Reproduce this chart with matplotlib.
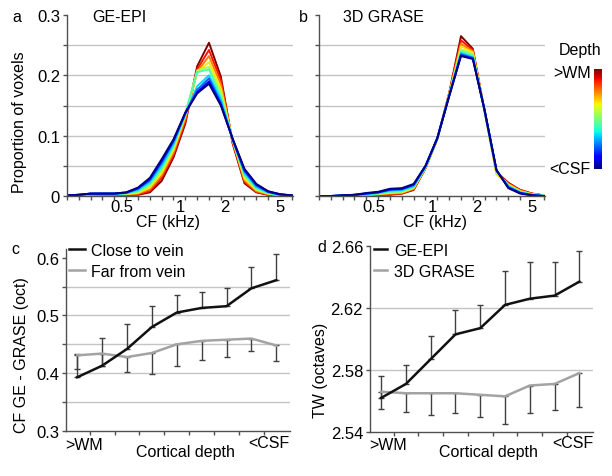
import matplotlib
matplotlib.use("Agg")
import matplotlib.pyplot as plt
import numpy as np

plt.rcParams['font.family'] = ['Liberation Sans', 'DejaVu Sans']
plt.rcParams['font.size'] = 11.5

# ---- data -------------------------------------------------------------
# CF histogram bins (index positions), rows go from <CSF (blue) to >WM (red)
cf_ticks = [4.6, 9.6, 13.3, 18.0]
cf_labels = ['0.5', '1', '2', '5']

ge_epi = [
    [0.001, 0.002, 0.004, 0.004, 0.004, 0.006, 0.014, 0.030, 0.061, 0.094, 0.138, 0.170, 0.186, 0.150, 0.095, 0.045, 0.020, 0.008, 0.003, 0.001],
    [0.001, 0.002, 0.004, 0.004, 0.004, 0.006, 0.013, 0.028, 0.058, 0.092, 0.138, 0.172, 0.190, 0.152, 0.094, 0.043, 0.019, 0.007, 0.003, 0.001],
    [0.001, 0.002, 0.004, 0.004, 0.004, 0.005, 0.012, 0.026, 0.055, 0.090, 0.137, 0.176, 0.195, 0.155, 0.094, 0.041, 0.017, 0.007, 0.002, 0.001],
    [0.001, 0.002, 0.003, 0.004, 0.004, 0.005, 0.010, 0.023, 0.050, 0.086, 0.135, 0.182, 0.200, 0.160, 0.094, 0.038, 0.015, 0.006, 0.002, 0.001],
    [0.001, 0.002, 0.003, 0.003, 0.003, 0.004, 0.008, 0.020, 0.046, 0.083, 0.138, 0.205, 0.210, 0.165, 0.093, 0.035, 0.013, 0.005, 0.002, 0.000],
    [0.001, 0.002, 0.003, 0.003, 0.003, 0.004, 0.007, 0.017, 0.042, 0.080, 0.136, 0.208, 0.214, 0.172, 0.093, 0.032, 0.011, 0.004, 0.002, 0.000],
    [0.001, 0.001, 0.003, 0.003, 0.003, 0.003, 0.005, 0.014, 0.038, 0.076, 0.132, 0.205, 0.222, 0.178, 0.092, 0.029, 0.010, 0.004, 0.001, 0.000],
    [0.001, 0.001, 0.002, 0.003, 0.003, 0.003, 0.004, 0.011, 0.034, 0.072, 0.128, 0.206, 0.232, 0.185, 0.091, 0.026, 0.008, 0.003, 0.001, 0.000],
    [0.000, 0.001, 0.002, 0.002, 0.002, 0.002, 0.003, 0.008, 0.030, 0.068, 0.124, 0.210, 0.242, 0.192, 0.089, 0.023, 0.007, 0.002, 0.001, 0.000],
    [0.000, 0.001, 0.002, 0.002, 0.002, 0.002, 0.002, 0.006, 0.025, 0.064, 0.120, 0.215, 0.254, 0.198, 0.087, 0.021, 0.006, 0.002, 0.001, 0.000],
]

grase = [
    [0.000, 0.000, 0.001, 0.002, 0.005, 0.007, 0.012, 0.013, 0.020, 0.050, 0.096, 0.165, 0.232, 0.227, 0.142, 0.043, 0.013, 0.004, 0.001, 0.000],
    [0.000, 0.000, 0.001, 0.002, 0.004, 0.006, 0.011, 0.012, 0.019, 0.050, 0.096, 0.166, 0.233, 0.228, 0.142, 0.043, 0.014, 0.005, 0.001, 0.000],
    [0.000, 0.000, 0.001, 0.002, 0.004, 0.006, 0.010, 0.011, 0.018, 0.049, 0.096, 0.166, 0.235, 0.229, 0.141, 0.042, 0.015, 0.005, 0.002, 0.000],
    [0.000, 0.000, 0.001, 0.001, 0.003, 0.005, 0.009, 0.010, 0.016, 0.048, 0.095, 0.167, 0.237, 0.230, 0.141, 0.042, 0.016, 0.006, 0.002, 0.000],
    [0.000, 0.000, 0.000, 0.001, 0.003, 0.004, 0.007, 0.008, 0.015, 0.048, 0.095, 0.167, 0.240, 0.233, 0.141, 0.041, 0.017, 0.007, 0.002, 0.001],
    [0.000, 0.000, 0.000, 0.001, 0.002, 0.004, 0.006, 0.007, 0.014, 0.047, 0.095, 0.168, 0.243, 0.236, 0.140, 0.040, 0.018, 0.007, 0.003, 0.001],
    [0.000, 0.000, 0.000, 0.001, 0.002, 0.003, 0.005, 0.006, 0.013, 0.047, 0.094, 0.168, 0.248, 0.238, 0.140, 0.036, 0.019, 0.008, 0.003, 0.001],
    [0.000, 0.000, 0.000, 0.001, 0.002, 0.003, 0.004, 0.005, 0.012, 0.046, 0.094, 0.169, 0.252, 0.240, 0.140, 0.038, 0.020, 0.009, 0.003, 0.001],
    [0.000, 0.000, 0.000, 0.001, 0.001, 0.002, 0.003, 0.004, 0.011, 0.046, 0.095, 0.170, 0.258, 0.242, 0.140, 0.039, 0.021, 0.010, 0.004, 0.001],
    [0.000, 0.000, 0.000, 0.001, 0.001, 0.002, 0.002, 0.004, 0.010, 0.046, 0.095, 0.170, 0.265, 0.244, 0.140, 0.040, 0.022, 0.010, 0.004, 0.001],
]

# panel c: CF difference, 9 depths from >WM to <CSF
close_vein = [0.393, 0.413, 0.442, 0.480, 0.505, 0.513, 0.516, 0.547, 0.561]
close_top = [0.433, 0.461, 0.486, 0.517, 0.536, 0.540, 0.548, 0.583, 0.606]
far_vein = [0.431, 0.434, 0.428, 0.435, 0.450, 0.456, 0.458, 0.460, 0.448]
far_bottom = [0.407, 0.413, 0.402, 0.399, 0.413, 0.423, 0.428, 0.439, 0.421]

# panel d: tuning width
tw_ge = [2.562, 2.571, 2.587, 2.603, 2.607, 2.622, 2.626, 2.628, 2.637]
tw_ge_top = [2.576, 2.583, 2.602, 2.619, 2.622, 2.644, 2.650, 2.650, 2.657]
tw_grase = [2.566, 2.565, 2.565, 2.565, 2.564, 2.563, 2.570, 2.571, 2.578]
tw_grase_bottom = [2.555, 2.553, 2.551, 2.552, 2.550, 2.545, 2.552, 2.554, 2.556]

W, H = 612, 477
SPINE = '#505050'
GRID = '#c4c4c4'
ERR = '#404040'
FS = 11.5
TFS = 12


def fx(px):
    return px / W


def fy(px):
    return 1 - px / H


fig = plt.figure(figsize=(W / 100, H / 100), dpi=100)


def style(ax):
    for s in ['top', 'right']:
        ax.spines[s].set_visible(False)
    for s in ['left', 'bottom']:
        ax.spines[s].set_color(SPINE)
        ax.spines[s].set_linewidth(1.0)
    ax.tick_params(which='both', direction='out', color=SPINE, length=3, width=1,
                   labelsize=TFS, pad=2)


# ---- panels a, b ------------------------------------------------------
def hist_panel(left, rows, show_labels):
    ax = fig.add_axes([fx(left), fy(197), fx(226), 181 / H])
    style(ax)
    for g in [0.05, 0.1, 0.15, 0.2, 0.25]:
        ax.axhline(g, color=GRID, lw=1.0, zorder=0)
    cols = plt.cm.jet(np.linspace(0, 1, len(rows)))
    x = np.arange(len(rows[0]))
    for row, c in reversed(list(zip(rows, cols))):
        ax.plot(x, row, color=c, lw=1.4)
    ax.set_xlim(0, 19.1)
    ax.set_ylim(0, 0.3)
    ax.set_xticks(cf_ticks)
    ax.set_xticklabels(cf_labels)
    ax.set_xticks(np.arange(0, 20), minor=True)
    ax.tick_params(axis='x', which='major', length=0, pad=2)
    ax.set_yticks([0, 0.1, 0.2, 0.3])
    ax.set_yticks(np.arange(0, 0.31, 0.05), minor=True)
    if show_labels:
        ax.set_yticklabels(['0', '0.1', '0.2', '0.3'])
    else:
        ax.set_yticklabels([])
    return ax


hist_panel(67, ge_epi, True)
hist_panel(319, grase, False)

fig.text(fx(17), fy(17), 'a', fontsize=FS, ha='center', va='center')
fig.text(fx(92), fy(17), 'GE-EPI', fontsize=FS, ha='left', va='center')
fig.text(fx(303), fy(17), 'b', fontsize=FS, ha='center', va='center')
fig.text(fx(343), fy(17), '3D GRASE', fontsize=FS, ha='left', va='center')
fig.text(fx(20), fy(122), 'Proportion of voxels', rotation=90, fontsize=FS,
         ha='center', va='center')
fig.text(fx(168), fy(223), 'CF (kHz)', fontsize=FS, ha='center', va='center')
fig.text(fx(435), fy(223), 'CF (kHz)', fontsize=FS, ha='center', va='center')

# depth colour bar
cax = fig.add_axes([fx(594), fy(170), fx(8), 100 / H])
cax.imshow(np.linspace(0, 1, 256).reshape(-1, 1), cmap='jet', aspect='auto',
           origin='lower')
cax.axis('off')
fig.text(fx(580), fy(50), 'Depth', fontsize=FS, ha='center', va='center')
fig.text(fx(591), fy(73), '>WM', fontsize=FS, ha='right', va='center')
fig.text(fx(591), fy(170), '<CSF', fontsize=FS, ha='right', va='center')


# ---- panels c, d ------------------------------------------------------
def depth_panel(rect, ylim, grid, yticks, yminor):
    ax = fig.add_axes(rect)
    style(ax)
    for g in grid:
        ax.axhline(g, color=GRID, lw=1.0, zorder=0)
    ax.set_xlim(-0.45, 8.55)
    ax.set_ylim(*ylim)
    ax.set_xticks(np.arange(0.5, 8, 1.0))
    ax.set_xticklabels([])
    ax.set_yticks(yticks)
    if yminor is not None:
        ax.set_yticks(yminor, minor=True)
    return ax


depth = np.arange(len(close_vein))

axc = depth_panel([fx(66), fy(432), fx(224), 182 / H], (0.3, 0.615),
                  [0.35, 0.4, 0.45, 0.5, 0.55], [0.3, 0.4, 0.5, 0.6],
                  np.arange(0.3, 0.61, 0.05))
axc.set_yticklabels(['0.3', '0.4', '0.5', '0.6'])
up = np.array(close_top) - np.array(close_vein)
dn = np.array(far_vein) - np.array(far_bottom)
zero = np.zeros(len(depth))
axc.errorbar(depth, close_vein, yerr=[zero, up], fmt='none', ecolor=ERR,
             elinewidth=1, capsize=2.5, capthick=1, zorder=2)
axc.errorbar(depth, far_vein, yerr=[dn, zero], fmt='none', ecolor=ERR,
             elinewidth=1, capsize=2.5, capthick=1, zorder=2)
axc.plot(depth, close_vein, color='#111111', lw=1.8, zorder=4, label='Close to vein')
axc.plot(depth, far_vein, color='#a3a3a3', lw=1.8, zorder=3, label='Far from vein')
axc.legend(loc='upper left', bbox_to_anchor=(fx(69), fy(244)),
           bbox_transform=fig.transFigure, frameon=False, fontsize=FS,
           handlelength=1.0, handletextpad=0.35, labelspacing=0.38,
           borderpad=0, borderaxespad=0)

axd = depth_panel([fx(370), fy(433), fx(223), 186 / H], (2.54, 2.66),
                  [2.58, 2.62], [2.54, 2.58, 2.62, 2.66], None)
axd.set_yticklabels(['2.54', '2.58', '2.62', '2.66'])
up = np.array(tw_ge_top) - np.array(tw_ge)
dn = np.array(tw_grase) - np.array(tw_grase_bottom)
axd.errorbar(depth, tw_ge, yerr=[zero, up], fmt='none', ecolor=ERR,
             elinewidth=1, capsize=2.5, capthick=1, zorder=2)
axd.errorbar(depth, tw_grase, yerr=[dn, zero], fmt='none', ecolor=ERR,
             elinewidth=1, capsize=2.5, capthick=1, zorder=2)
axd.plot(depth, tw_ge, color='#111111', lw=1.8, zorder=4, label='GE-EPI')
axd.plot(depth, tw_grase, color='#a3a3a3', lw=1.8, zorder=3, label='3D GRASE')
axd.legend(loc='upper left', bbox_to_anchor=(fx(374), fy(244)),
           bbox_transform=fig.transFigure, frameon=False, fontsize=FS,
           handlelength=0.8, handletextpad=0.45, labelspacing=0.38,
           borderpad=0, borderaxespad=0)

fig.text(fx(15), fy(250), 'c', fontsize=FS, ha='center', va='center')
fig.text(fx(322), fy(247), 'd', fontsize=FS, ha='center', va='center')
fig.text(fx(22), fy(355), 'CF GE - GRASE (oct)', rotation=90, fontsize=FS,
         ha='center', va='center')
fig.text(fx(320), fy(370), 'TW (octaves)', rotation=90, fontsize=FS,
         ha='center', va='center')
for cx, wm, csf in [(185, 84, 269), (488, 388, 573)]:
    fig.text(fx(cx), fy(453), 'Cortical depth', fontsize=FS, ha='center', va='center')
    fig.text(fx(wm), fy(446), '>WM', fontsize=FS, ha='center', va='center')
    fig.text(fx(csf), fy(444), '<CSF', fontsize=FS, ha='center', va='center')

fig.savefig('out.png', dpi=100)
